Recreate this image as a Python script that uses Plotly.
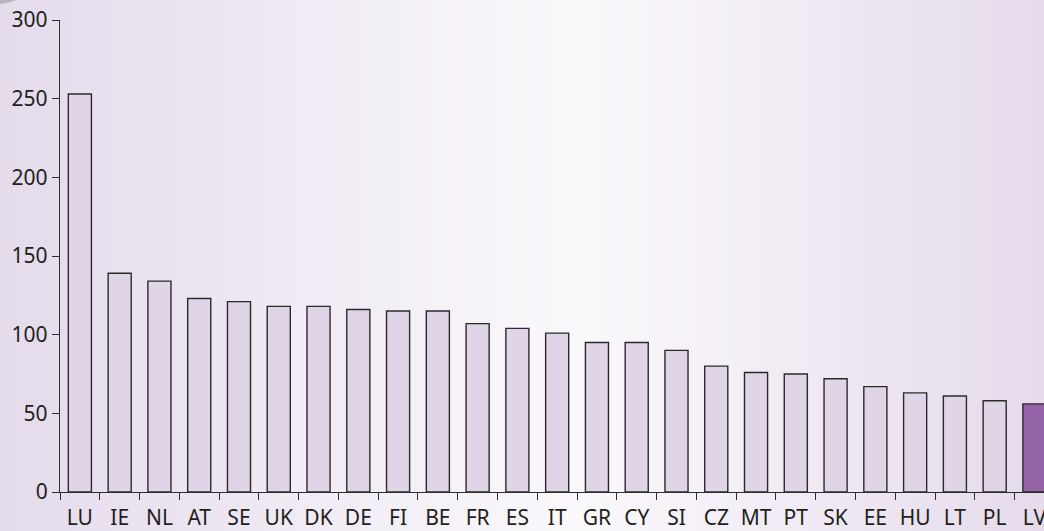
import plotly.graph_objects as go

countries = ["LU", "IE", "NL", "AT", "SE", "UK", "DK", "DE", "FI", "BE", "FR", "ES", "IT",
             "GR", "CY", "SI", "CZ", "MT", "PT", "SK", "EE", "HU", "LT", "PL", "LV"]
values = [253, 139, 134, 123, 121, 118, 118, 116, 115, 115, 107, 104, 101,
          95, 95, 90, 80, 76, 75, 72, 67, 63, 61, 58, 56]
highlight = "LV"
y_ticks = [0, 50, 100, 150, 200, 250, 300]

W, H = 1044, 531
left_m, right_m, top_m, bottom_m = 60, 0, 20, 39

bar_colors = ["#9564a8" if c == highlight else "#e0d5e6" for c in countries]


def bg_color(px):
    # lavender at the edges, almost white near the middle
    edge_l = (228, 219, 235)
    mid = (251, 249, 252)
    edge_r = (229, 219, 235)
    c = 580
    if px <= c:
        t = px / c
        a, b = edge_l, mid
    else:
        t = (px - c) / (W - c)
        a, b = mid, edge_r
    return "rgb(%d,%d,%d)" % tuple(round(a[i] + (b[i] - a[i]) * t) for i in range(3))


plot_w = W - left_m - right_m
plot_h = H - top_m - bottom_m
shapes = []
n_strips = 87
for i in range(n_strips):
    x0 = i * W / n_strips
    x1 = (i + 1) * W / n_strips + 0.5
    shapes.append(dict(
        type="rect", xref="paper", yref="paper", layer="below",
        x0=(x0 - left_m) / plot_w, x1=(x1 - left_m) / plot_w,
        y0=-bottom_m / plot_h - 0.01, y1=1 + top_m / plot_h + 0.01,
        fillcolor=bg_color((x0 + x1) / 2), line=dict(width=0),
    ))
# grey shadow in the top-left corner
shapes.append(dict(
    type="circle", xref="paper", yref="paper", layer="below",
    x0=(-90 - left_m) / plot_w, x1=(45 - left_m) / plot_w,
    y0=1 + (top_m - 6) / plot_h, y1=1 + (top_m + 60) / plot_h,
    fillcolor="rgba(140,135,145,0.5)", line=dict(width=0),
))

fig = go.Figure(go.Bar(
    x=countries, y=values,
    marker=dict(color=bar_colors, line=dict(color="#2a2a2a", width=1.4)),
    width=0.58,
    hoverinfo="x+y",
))

font = dict(family="Noto Sans, Open Sans, sans-serif", size=21, color="#231f20")

fig.update_layout(
    width=W, height=H,
    margin=dict(l=left_m, r=right_m, t=top_m, b=bottom_m, autoexpand=False),
    paper_bgcolor="rgba(0,0,0,0)", plot_bgcolor="rgba(0,0,0,0)",
    shapes=shapes,
    showlegend=False,
    font=font,
    xaxis=dict(
        type="category", range=[-0.5, 24.24], tickangle=0, automargin=False,
        tickson="boundaries", ticks="outside", ticklen=7, tickcolor="#2e2e2e",
        showline=True, linecolor="#2e2e2e", linewidth=1.3,
        showgrid=False, zeroline=False, tickfont=font, ticklabelstandoff=7,
    ),
    yaxis=dict(
        range=[0, 300], tickvals=y_ticks, automargin=False,
        ticks="outside", ticklen=7, tickcolor="#2e2e2e",
        showline=True, linecolor="#2e2e2e", linewidth=1.3,
        showgrid=False, zeroline=False, tickfont=font,
    ),
)

fig.write_html("out.html", config={"displayModeBar": False},
               post_script="document.body.style.margin='0';")
